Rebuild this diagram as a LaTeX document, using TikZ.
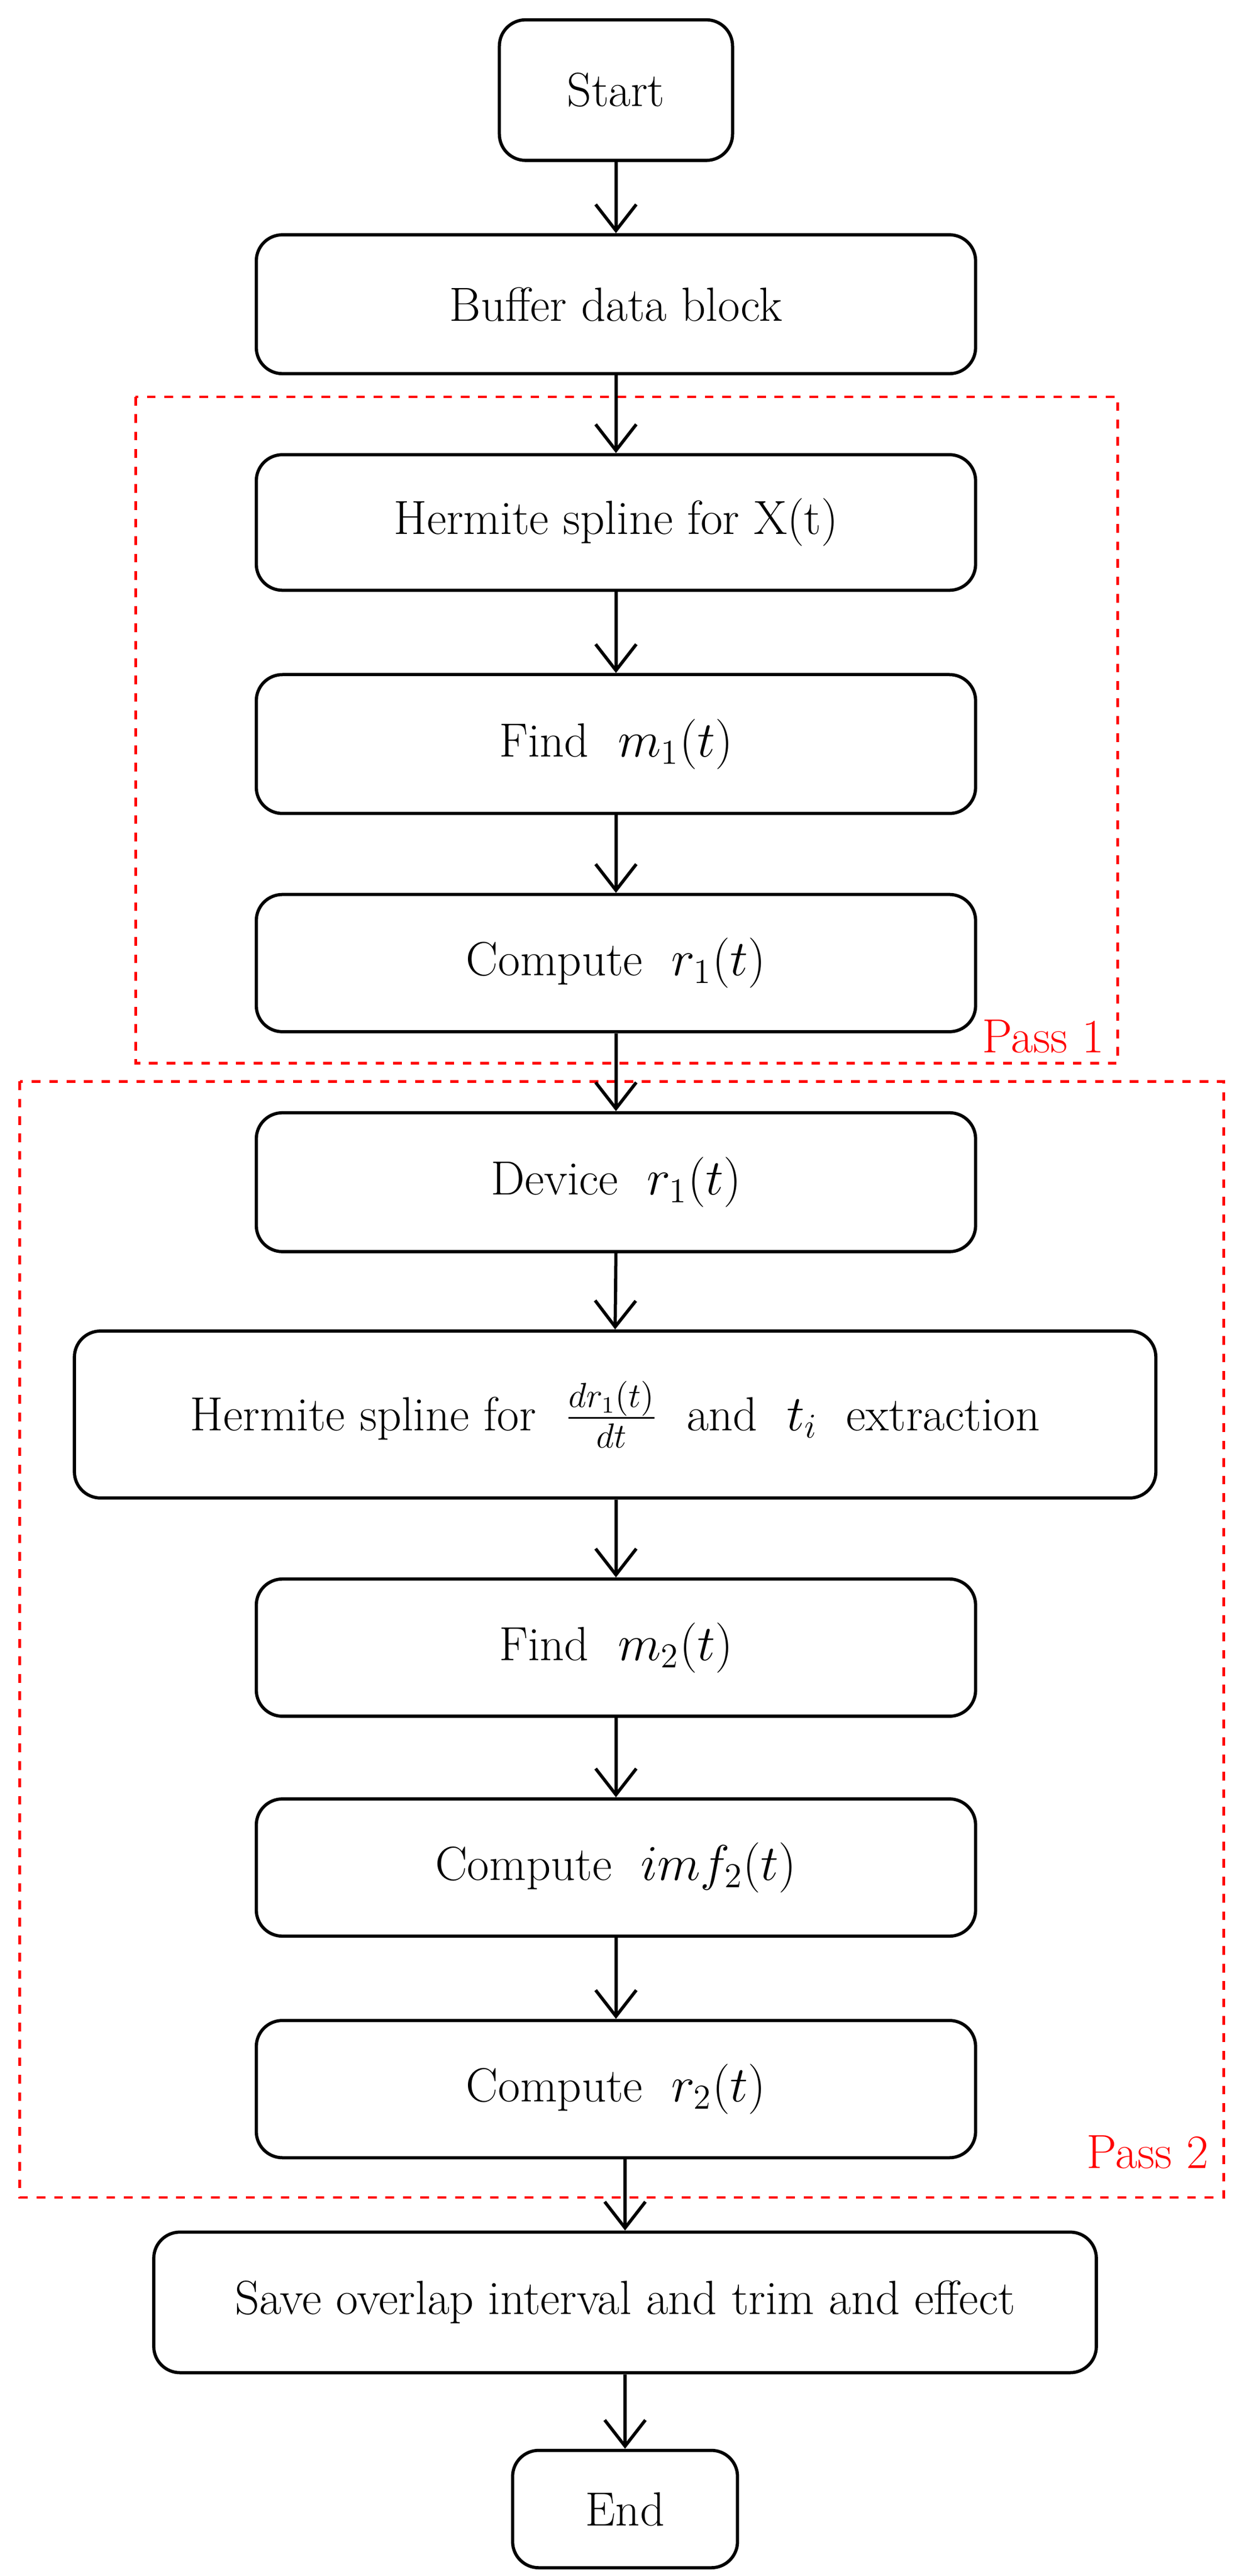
\documentclass[tikz,border=0pt]{standalone}
\usetikzlibrary{arrows.meta}
\begin{document}
\begin{tikzpicture}[x=0.02cm,y=-0.02cm,
 box/.style={draw,rounded corners=9pt,line width=1.1pt,font=\fontsize{16.5}{20}\selectfont},
 arr/.style={-{Straight Barb[length=9pt,width=14pt]},line width=1.1pt},
 pass/.style={draw=red,dashed,line width=0.9pt},
 plabel/.style={text=red,font=\fontsize{16.5}{20}\selectfont}]
\useasboundingbox (0,0) rectangle (749,1558);
\newcommand{\bx}[6]{\node[box,minimum width={(#4-#3)*0.02cm},minimum height={(#6-#5)*0.02cm},inner sep=0pt] (#1) at ({(#3+#4)/2},{(#5+#6)/2}) {#2};}
\bx{start}{Start}{302}{443}{12}{97}
\bx{buf}{Buffer data block}{155}{590}{142}{226}
\bx{herm}{Hermite spline for X(t)}{155}{590}{275}{357}
\bx{m1}{Find\ \ $m_1(t)$}{155}{590}{408}{492}
\bx{r1}{Compute\ \ $r_1(t)$}{155}{590}{541}{624}
\bx{dev}{Device\ \ $r_1(t)$}{155}{590}{673}{757}
\bx{hdr}{Hermite spline for\ \ $\frac{dr_1(t)}{dt}$\ \ and\ \ $t_i$\ \ extraction}{45}{699}{805}{906}
\bx{m2}{Find\ \ $m_2(t)$}{155}{590}{955}{1038}
\bx{imf}{Compute\ \ $imf_2(t)$}{155}{590}{1088}{1171}
\bx{r2}{Compute\ \ $r_2(t)$}{155}{590}{1222}{1305}
\bx{save}{Save overlap interval and trim and effect}{93}{663}{1350}{1435}
\bx{end}{End}{310}{446}{1482}{1553}
\draw[pass] (82,240) rectangle (676,643);
\node[plabel,anchor=south east] (p1) at (674,643) {Pass 1};
\draw[pass] (12,654) rectangle (740,1329);
\node[plabel,anchor=south east] (p2) at (737,1318) {Pass 2};
\foreach \a/\b in {start/buf,buf/herm,herm/m1,m1/r1,r1/dev,dev/hdr,m2/imf,imf/r2}
  \draw[arr] (\a.south) -- (\b.north);
\draw[arr] (hdr.south -| m2.north) -- (m2.north);
\draw[arr] (r2.south -| save.north) -- (save.north);
\draw[arr] (save.south) -- (end.north);
\end{tikzpicture}
\end{document}
